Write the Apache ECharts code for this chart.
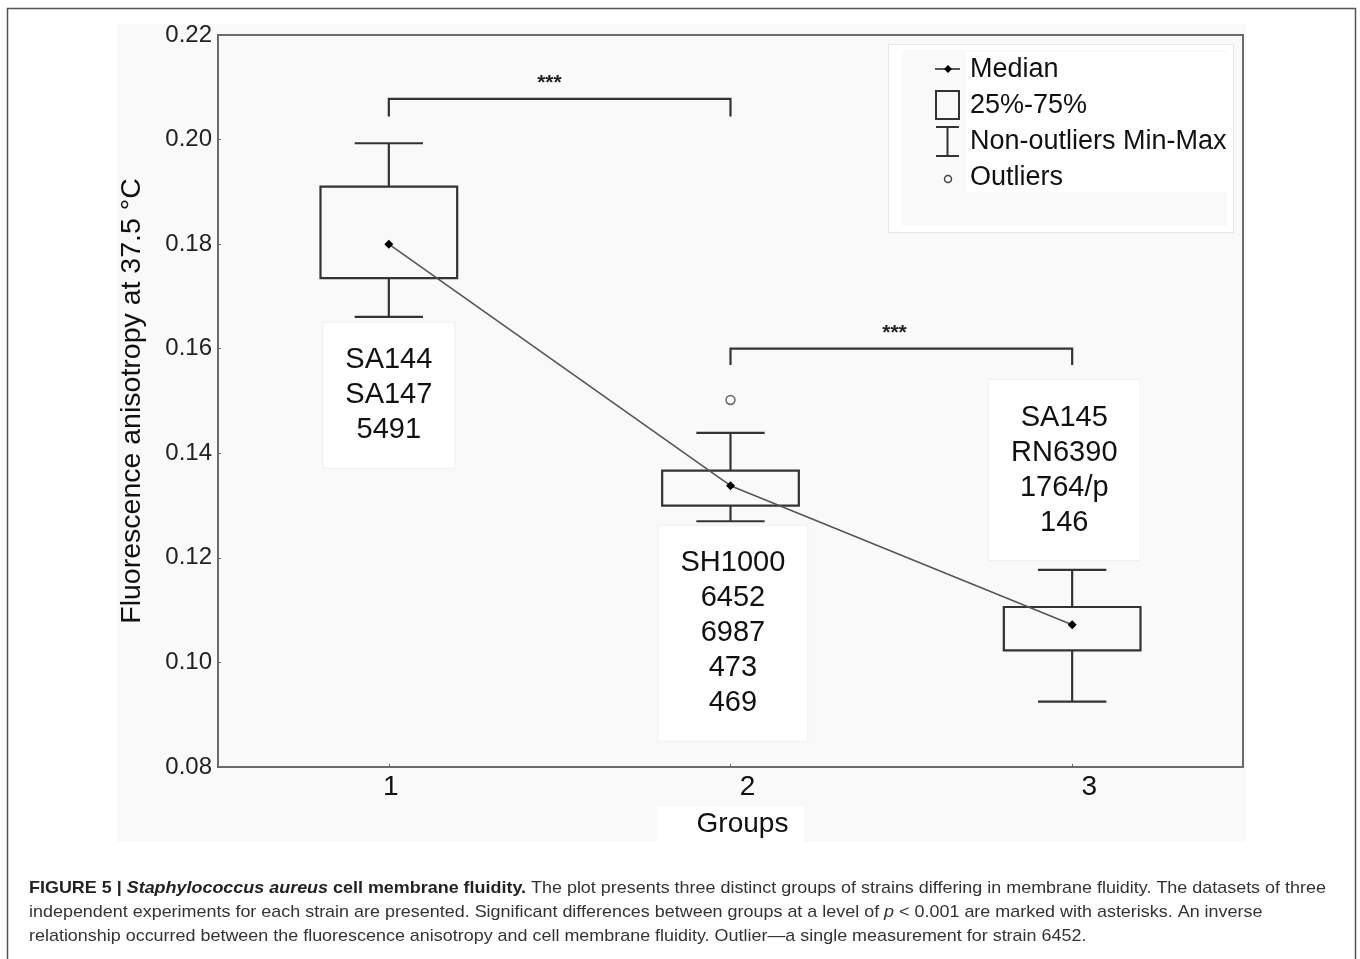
<!DOCTYPE html>
<html><head><meta charset="utf-8">
<script src="https://cdn.jsdelivr.net/npm/echarts@6/dist/echarts.min.js"></script>
<style>html,body{margin:0;padding:0;background:#fff}#c{width:1360px;height:959px}</style>
</head><body><div id="c"></div>
<script>
// ---- data ----
const groups = [1, 2, 3];
const whiskerLow  = [0.1661, 0.1270, 0.0925];
const q1          = [0.1735, 0.1300, 0.1023];
const medians     = [0.1800, 0.1338, 0.1072];
const q3          = [0.1910, 0.1367, 0.1106];
const whiskerHigh = [0.1993, 0.1439, 0.1177];
const outlierGroup = [2];
const outlierValue = [0.1502];
const strainLists = [
  ['SA144', 'SA147', '5491'],
  ['SH1000', '6452', '6987', '473', '469'],
  ['SA145', 'RN6390', '1764/p', '146']
];
const sigFrom = [1, 2];
const sigTo = [2, 3];
const sigLabel = ['***', '***'];
const yMin = 0.08, yMax = 0.22, yStep = 0.02;
const legendLabels = ['Median', '25%-75%', 'Non-outliers Min-Max', 'Outliers'];

// ---- layout (not data) ----
const bracketLevel = [0.2078, 0.1600];
const bracketDrop = [0.0034, 0.0031];
const starPos = [0.47, 0.48];
const strainAnchor = [[1.0, 0.1511], [2.007, 0.1056], [2.977, 0.1368]];

const FONT = '"Liberation Sans", Arial, sans-serif';
const INK = '#333';

const boxData = groups.map((g, i) => [g, whiskerLow[i], q1[i], medians[i], q3[i], whiskerHigh[i]]);
const medianData = groups.map((g, i) => [g, medians[i]]);
const outlierData = outlierGroup.map((g, i) => [g, outlierValue[i]]);
const bracketData = sigFrom.map((f, i) => [f, sigTo[i], bracketLevel[i], bracketDrop[i], starPos[i], i]);
const strainData = strainAnchor.map((a, i) => [a[0], a[1], i]);

const chart = echarts.init(document.getElementById('c'), null, {renderer: 'canvas'});

const CAP = 17, CAPSX = 1.055;
const capRich = {
  b: {fontFamily: FONT, fontSize: CAP, fontWeight: 'bold', fill: '#222'},
  bi: {fontFamily: FONT, fontSize: CAP, fontWeight: 'bold', fontStyle: 'italic', fill: '#222'},
  n: {fontFamily: FONT, fontSize: CAP, fill: '#333'},
  i: {fontFamily: FONT, fontSize: CAP, fontStyle: 'italic', fill: '#333'}
};

const option = {
  animation: false,
  backgroundColor: '#fff',
  grid: {left: 218, top: 35, width: 1025, height: 732, show: true, borderColor: '#6a6a6a', borderWidth: 2, backgroundColor: 'transparent', outerBoundsMode: 'none'},
  graphic: [
    {type: 'rect', z: -10, silent: true, shape: {x: 117, y: 24, width: 1129, height: 818}, style: {fill: '#f9f9f9'}},
    {type: 'rect', z: -10, silent: true, shape: {x: 7.5, y: 8.5, width: 1348, height: 1000}, style: {fill: 'none', stroke: '#555', lineWidth: 1.5}},
    // legend
    {type: 'group', z: 50, children: [
      {type: 'rect', shape: {x: 888.5, y: 44.5, width: 345, height: 188}, style: {fill: '#fff', stroke: '#e6e6e6', lineWidth: 1}},
      {type: 'rect', shape: {x: 902, y: 50, width: 325, height: 176}, style: {fill: '#f9f9f9'}},
      {type: 'rect', shape: {x: 966, y: 52, width: 262, height: 140}, style: {fill: '#fff'}},
      {type: 'line', shape: {x1: 935, y1: 69, x2: 960, y2: 69}, style: {stroke: '#222', lineWidth: 1.5}},
      {type: 'polygon', shape: {points: [[948, 65], [952, 69], [948, 73], [944, 69]]}, style: {fill: '#000'}},
      {type: 'rect', shape: {x: 936, y: 91, width: 23, height: 28}, style: {fill: 'none', stroke: '#333', lineWidth: 2}},
      {type: 'line', shape: {x1: 936, y1: 127, x2: 959, y2: 127}, style: {stroke: '#333', lineWidth: 2}},
      {type: 'line', shape: {x1: 936, y1: 156, x2: 959, y2: 156}, style: {stroke: '#333', lineWidth: 2}},
      {type: 'line', shape: {x1: 947.5, y1: 127, x2: 947.5, y2: 156}, style: {stroke: '#333', lineWidth: 2}},
      {type: 'circle', shape: {cx: 948, cy: 179, r: 3.5}, style: {fill: '#fff', stroke: '#444', lineWidth: 1.5}},
      {type: 'text', style: {x: 970, y: 70, text: legendLabels[0], font: '27px ' + FONT, fill: '#111', verticalAlign: 'middle'}},
      {type: 'text', style: {x: 970, y: 106, text: legendLabels[1], font: '27px ' + FONT, fill: '#111', verticalAlign: 'middle'}},
      {type: 'text', style: {x: 970, y: 142, text: legendLabels[2], font: '27px ' + FONT, fill: '#111', verticalAlign: 'middle'}},
      {type: 'text', style: {x: 970, y: 178, text: legendLabels[3], font: '27px ' + FONT, fill: '#111', verticalAlign: 'middle'}}
    ]},
    // caption
    {type: 'text', x: 29, y: 880, scaleX: CAPSX, style: {
      text: '{b|FIGURE 5 | }{bi|Staphylococcus aureus}{b| cell membrane fluidity.}{n| The plot presents three distinct groups of strains differing in membrane fluidity. The datasets of three}',
      rich: capRich
    }},
    {type: 'text', x: 29, y: 904, scaleX: CAPSX, style: {
      text: '{n|independent experiments for each strain are presented. Significant differences between groups at a level of }{i|p}{n| < 0.001 are marked with asterisks. An inverse}',
      rich: capRich
    }},
    {type: 'text', x: 29, y: 928, scaleX: CAPSX, style: {
      text: '{n|relationship occurred between the fluorescence anisotropy and cell membrane fluidity. Outlier\u2014a single measurement for strain 6452.}',
      rich: capRich
    }}
  ],
  xAxis: {
    type: 'value', min: 0.5, max: 3.5,
    name: 'Groups', nameLocation: 'middle', nameGap: 36,
    nameTextStyle: {fontFamily: FONT, fontSize: 28, color: '#111', backgroundColor: '#fff', padding: [4, 16, 4, 40]},
    axisLine: {show: true, onZero: false, lineStyle: {color: '#6a6a6a', width: 2}},
    axisTick: {show: true, inside: true, length: 3, customValues: groups, lineStyle: {color: '#666'}},
    axisLabel: {
      customValues: groups, margin: 6, fontFamily: FONT, fontSize: 28, color: '#111',
      formatter: v => (v === 1 ? '{a|' + v + '}' : '{s|' + v + '}'),
      rich: {a: {fontFamily: FONT, fontSize: 28, color: '#111', padding: [0, 0, 0, 4]},
             s: {fontFamily: FONT, fontSize: 28, color: '#111', padding: [0, 0, 0, 34]}}
    },
    splitLine: {show: false}
  },
  yAxis: {
    type: 'value', min: yMin, max: yMax, interval: yStep,
    name: 'Fluorescence anisotropy at 37.5 \u00b0C', nameLocation: 'middle', nameGap: 71,
    nameTextStyle: {fontFamily: FONT, fontSize: 28.5, color: '#111'},
    axisLine: {show: true, onZero: false, lineStyle: {color: '#6a6a6a', width: 2}},
    axisTick: {show: true, inside: true, length: 3, lineStyle: {color: '#666'}},
    axisLabel: {margin: 6, fontFamily: FONT, fontSize: 24, color: '#222', formatter: v => v.toFixed(2)},
    splitLine: {show: false}
  },
  series: [
    {
      type: 'custom', name: 'boxes', z: 3,
      data: boxData,
      encode: {x: 0, y: [1, 2, 3, 4, 5]},
      renderItem: (params, api) => {
        const x = api.value(0);
        const lo = api.coord([x, api.value(1)]);
        const b1 = api.coord([x, api.value(2)]);
        const b3 = api.coord([x, api.value(4)]);
        const hi = api.coord([x, api.value(5)]);
        const halfW = api.size([0.4, 0])[0] / 2;
        const capW = halfW / 2;
        const st = {stroke: INK, lineWidth: 2.2, fill: 'none'};
        const cx = lo[0];
        return {type: 'group', children: [
          {type: 'line', shape: {x1: cx, y1: lo[1], x2: cx, y2: b1[1]}, style: st},
          {type: 'line', shape: {x1: cx - capW, y1: lo[1], x2: cx + capW, y2: lo[1]}, style: st},
          {type: 'line', shape: {x1: cx, y1: hi[1], x2: cx, y2: b3[1]}, style: st},
          {type: 'line', shape: {x1: cx - capW, y1: hi[1], x2: cx + capW, y2: hi[1]}, style: st},
          {type: 'rect', shape: {x: cx - halfW, y: b3[1], width: 2 * halfW, height: b1[1] - b3[1]}, style: st}
        ]};
      }
    },
    {
      type: 'line', name: 'Median', z: 5,
      data: medianData,
      symbol: 'diamond', symbolSize: 9,
      itemStyle: {color: '#000'},
      lineStyle: {color: '#555', width: 1.6}
    },
    {
      type: 'scatter', name: 'Outliers', z: 5,
      data: outlierData,
      symbol: 'circle', symbolSize: 9,
      itemStyle: {color: '#f9f9f9', borderColor: '#444', borderWidth: 1.5}
    },
    {
      type: 'custom', name: 'significance', z: 4,
      data: bracketData,
      encode: {x: [0, 1], y: 2},
      renderItem: (params, api) => {
        const a = api.coord([api.value(0), api.value(2)]);
        const b = api.coord([api.value(1), api.value(2)]);
        const d = api.coord([api.value(0), api.value(2) - api.value(3)]);
        const sx = a[0] + (b[0] - a[0]) * api.value(4);
        const st = {stroke: INK, lineWidth: 2.2, fill: 'none'};
        return {type: 'group', children: [
          {type: 'polyline', shape: {points: [[a[0], d[1]], [a[0], a[1]], [b[0], b[1]], [b[0], d[1]]]}, style: st},
          {type: 'text', style: {x: sx, y: a[1] - 26, text: sigLabel[api.value(5)], font: 'bold 21px ' + FONT, fill: '#222', align: 'center', verticalAlign: 'top'}}
        ]};
      }
    },
    {
      type: 'custom', name: 'strains', z: 2,
      data: strainData,
      encode: {x: 0, y: 1},
      renderItem: (params, api) => {
        const p = api.coord([api.value(0), api.value(1)]);
        const lines = strainLists[api.value(2)];
        return {type: 'text', style: {
          x: p[0], y: p[1], text: lines.join('\n'), font: '29px ' + FONT, lineHeight: 35,
          fill: '#111', align: 'center', verticalAlign: 'middle',
          backgroundColor: '#fff', padding: [20, 22, 20, 22], borderColor: '#efefef', borderWidth: 1
        }};
      }
    }
  ]
};
chart.setOption(option);
</script>
</body></html>
